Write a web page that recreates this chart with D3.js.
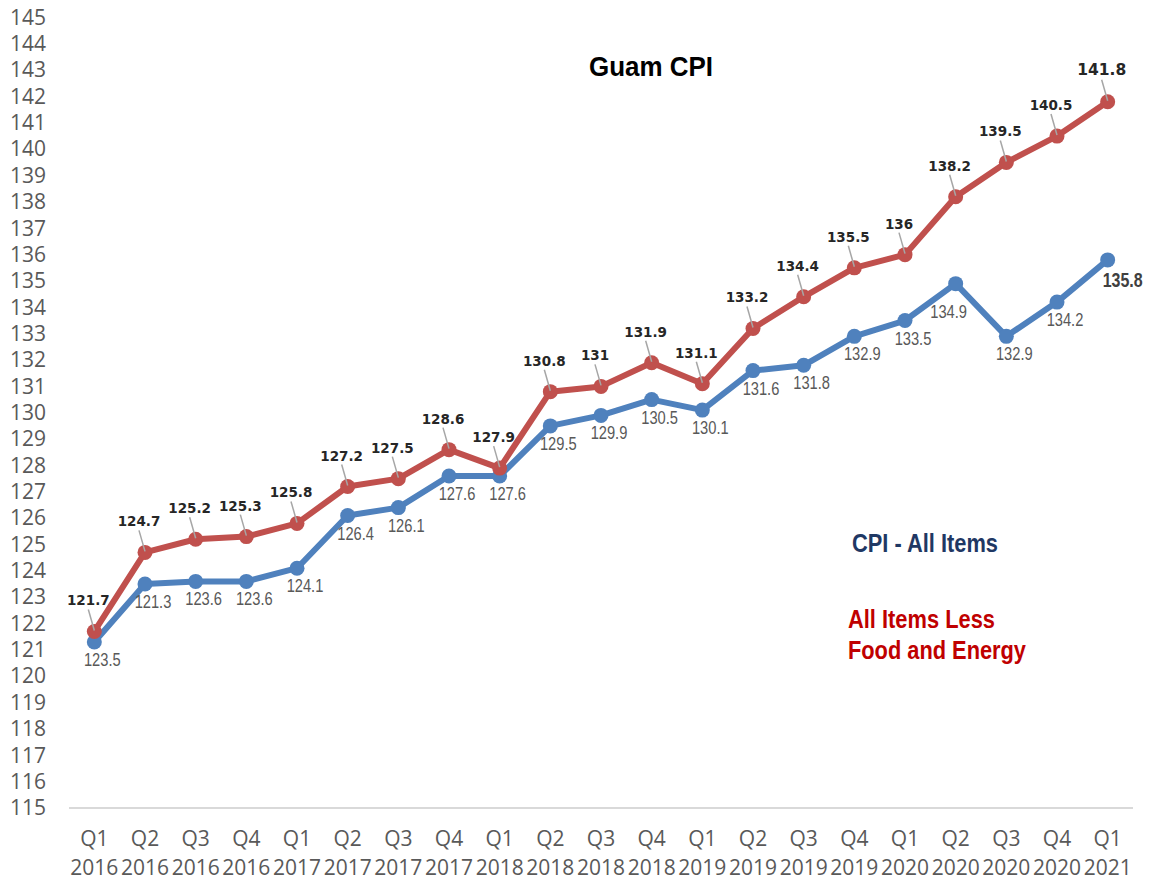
<!DOCTYPE html>
<html>
<head>
<meta charset="utf-8">
<title>Guam CPI</title>
<script src="https://d3js.org/d3.v7.min.js"></script>
<style>
body { margin: 0; background: #fff; }
text { font-family: "Liberation Sans Narrow", "Arial Narrow", "Liberation Sans", sans-serif; }
.tick text { font-family: "Open Sans", "Lato", sans-serif; }
</style>
</head>
<body>
<script>
// quarters along the bottom
var quarters = ["Q1","Q2","Q3","Q4","Q1","Q2","Q3","Q4","Q1","Q2","Q3","Q4","Q1","Q2","Q3","Q4","Q1","Q2","Q3","Q4","Q1"];
var years = ["2016","2016","2016","2016","2017","2017","2017","2017","2018","2018","2018","2018","2019","2019","2019","2019","2020","2020","2020","2020","2021"];

// CPI - All Items (blue)
var allItems = [121.3,123.5,123.6,123.6,124.1,126.1,126.4,127.6,127.6,129.5,129.9,130.5,130.1,131.6,131.8,132.9,133.5,134.9,132.9,134.2,135.8];
// labels as printed on the chart
var allItemsLabels = ["123.5","121.3","123.6","123.6","124.1","126.4","126.1","127.6","127.6","129.5","129.9","130.5","130.1","131.6","131.8","132.9","133.5","134.9","132.9","134.2","135.8"];

// All items less food and energy (red)
var coreItems = [121.7,124.7,125.2,125.3,125.8,127.2,127.5,128.6,127.9,130.8,131,131.9,131.1,133.2,134.4,135.5,136,138.2,139.5,140.5,141.8];

var yTicks = d3.range(115, 146, 1);

var width = 1153, height = 882;
var margin = {left: 69, right: 20, top: 18, bottom: 74};

var svg = d3.select("body").append("svg")
  .attr("width", width)
  .attr("height", height);

var keys = quarters.map(function(q, i) { return i; });

var x = d3.scaleBand()
  .domain(keys)
  .range([margin.left, 1133]);

var y = d3.scaleLinear()
  .domain([115, 145])
  .range([808, 17.5]);

function cx(i) { return x(i) + x.bandwidth() / 2; }

// narrow-font width estimate (no Arial Narrow here, so squeeze)
function narrowWidth(s, size) {
  var w = 0;
  for (var k = 0; k < s.length; k++) w += (s[k] === "." ? 0.228 : 0.456);
  return w * size;
}

// y axis - labels only
var yAxis = svg.append("g")
  .attr("transform", "translate(46,0)")
  .call(d3.axisLeft(y).tickValues(yTicks).tickSize(0).tickPadding(0));
yAxis.select(".domain").remove();
yAxis.selectAll("text")
  .attr("fill", "#595959")
  .style("font-size", "21px");

// bottom axis line
svg.append("line")
  .attr("x1", margin.left).attr("x2", 1133)
  .attr("y1", y(115)).attr("y2", y(115))
  .attr("stroke", "#d9d9d9")
  .attr("stroke-width", 2);

// x labels, two lines
var xl = svg.append("g").selectAll("text")
  .data(keys)
  .enter().append("text")
  .attr("x", cx)
  .attr("text-anchor", "middle")
  .attr("fill", "#595959")
  .style("font-family", "'Open Sans', Lato, sans-serif")
  .style("font-size", "21px");
xl.append("tspan").attr("x", cx).attr("y", 846).text(function(i) { return quarters[i]; });
xl.append("tspan").attr("x", cx).attr("y", 875).text(function(i) { return years[i]; });

var line = d3.line()
  .x(function(d, i) { return cx(i); })
  .y(function(d) { return y(d); });

var blue = "#4f81bd", red = "#c0504d";

// blue series
svg.append("path")
  .datum(allItems)
  .attr("d", line)
  .attr("fill", "none")
  .attr("stroke", blue)
  .attr("stroke-width", 6)
  .attr("stroke-linejoin", "round");
svg.append("g").selectAll("circle")
  .data(allItems)
  .enter().append("circle")
  .attr("cx", function(d, i) { return cx(i); })
  .attr("cy", function(d) { return y(d); })
  .attr("r", 7.5)
  .attr("fill", blue);

// red series
svg.append("path")
  .datum(coreItems)
  .attr("d", line)
  .attr("fill", "none")
  .attr("stroke", red)
  .attr("stroke-width", 6)
  .attr("stroke-linejoin", "round");
svg.append("g").selectAll("circle")
  .data(coreItems)
  .enter().append("circle")
  .attr("cx", function(d, i) { return cx(i); })
  .attr("cy", function(d) { return y(d); })
  .attr("r", 7.5)
  .attr("fill", red);

// red labels with leader lines
var last = coreItems.length - 1;
svg.append("g").selectAll("line")
  .data(coreItems)
  .enter().append("line")
  .attr("x1", function(d, i) { return cx(i) - 6; })
  .attr("y1", function(d) { return y(d) - 22; })
  .attr("x2", function(d, i) { return cx(i); })
  .attr("y2", function(d) { return y(d) - 1; })
  .attr("stroke", "#a6a6a6")
  .attr("stroke-width", 1.5);
svg.append("g").selectAll("text")
  .data(coreItems)
  .enter().append("text")
  .attr("x", function(d, i) { return cx(i) - 6; })
  .attr("y", function(d, i) { return y(d) - (i === last ? 27 : 26); })
  .attr("text-anchor", "middle")
  .attr("fill", "#262626")
  .style("font-family", "'DejaVu Sans', sans-serif")
  .style("font-weight", "bold")
  .style("font-size", function(d, i) { return i === last ? "15.5px" : "13.5px"; })
  .text(function(d) { return d; });

// blue labels
var blueNudge = {17: [-7, 28], 20: [15, 21]};
svg.append("g").selectAll("text")
  .data(allItems)
  .enter().append("text")
  .attr("x", function(d, i) { return cx(i) + (blueNudge[i] ? blueNudge[i][0] : 8); })
  .attr("y", function(d, i) { return y(d) + (blueNudge[i] ? blueNudge[i][1] : 18) + 6; })
  .attr("text-anchor", "middle")
  .attr("fill", function(d, i) { return i === last ? "#404040" : "#595959"; })
  .style("font-weight", function(d, i) { return i === last ? "bold" : "normal"; })
  .style("font-size", function(d, i) { return i === last ? "20px" : "17.5px"; })
  .attr("textLength", function(d, i) { return i === last ? 40 : narrowWidth(allItemsLabels[i], 17.9); })
  .attr("lengthAdjust", "spacingAndGlyphs")
  .text(function(d, i) { return allItemsLabels[i]; });

// title
svg.append("text")
  .attr("x", 651).attr("y", 76)
  .attr("text-anchor", "middle")
  .attr("fill", "#000")
  .style("font-weight", "bold")
  .style("font-size", "28px")
  .attr("textLength", 124)
  .attr("lengthAdjust", "spacingAndGlyphs")
  .text("Guam CPI");

// legend text
svg.append("text")
  .attr("x", 852).attr("y", 552)
  .attr("fill", "#1f3864")
  .style("font-weight", "bold")
  .style("font-size", "25px")
  .attr("textLength", 146)
  .attr("lengthAdjust", "spacingAndGlyphs")
  .text("CPI - All Items");
svg.append("text")
  .attr("x", 848).attr("y", 628)
  .attr("fill", "#c00000")
  .style("font-weight", "bold")
  .style("font-size", "25px")
  .attr("textLength", 147)
  .attr("lengthAdjust", "spacingAndGlyphs")
  .text("All Items Less");
svg.append("text")
  .attr("x", 848).attr("y", 659)
  .attr("fill", "#c00000")
  .style("font-weight", "bold")
  .style("font-size", "25px")
  .attr("textLength", 178)
  .attr("lengthAdjust", "spacingAndGlyphs")
  .text("Food and Energy");
</script>
</body>
</html>
